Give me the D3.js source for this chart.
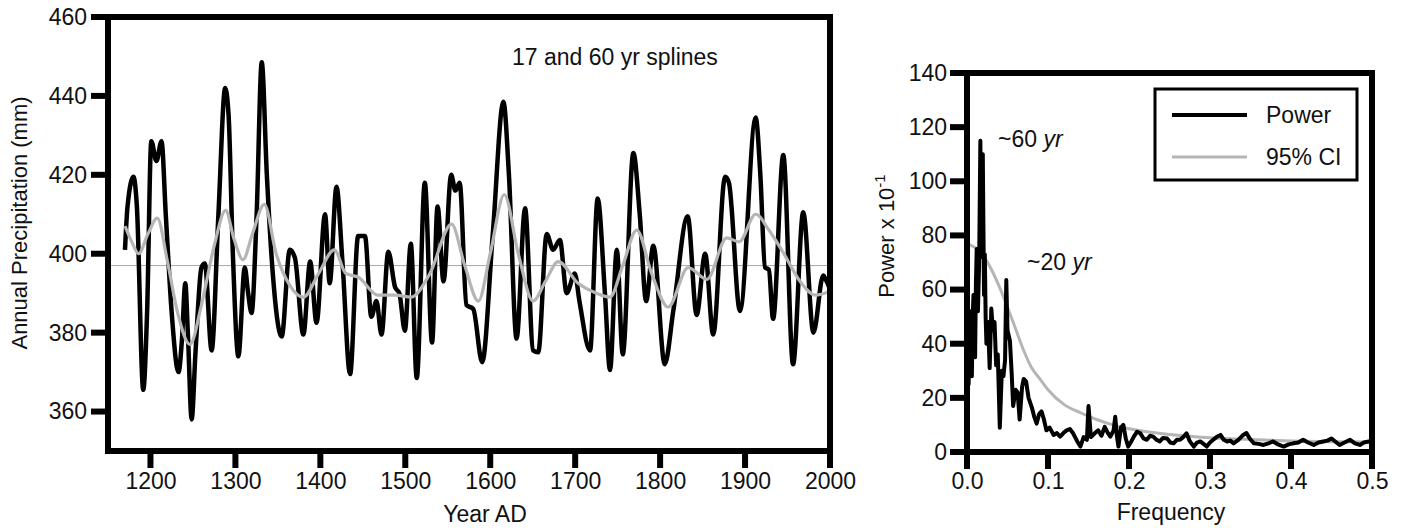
<!DOCTYPE html>
<html lang="en">
<head>
<meta charset="UTF-8" />
<title>Precipitation splines and power spectrum</title>
<style>
  body { margin: 0; background: #fff; }
  text { font-family: "Liberation Sans", Arial, sans-serif; fill: #111; }
</style>
</head>
<body>
<div id="wrapper"></div>
<script src="https://d3js.org/d3.v7.min.js"></script>
<script>
// ---- left panel: 17 yr spline (black) and 60 yr spline (grey) ----
const years17 = [1170,1173,1180,1184,1191.5,1196,1201,1207,1213,1218,1225,1233,1237,1241,1244,1248.5,1253,1260,1264,1272,1280,1288,1292,1297,1303.5,1311,1315,1319,1325,1331,1337,1344,1354.5,1364,1370,1380,1388,1395.5,1405.5,1411,1419,1426,1435,1444.5,1452.5,1460,1466,1472,1480,1488,1493,1499.5,1506.5,1513.5,1523,1531.5,1538,1545,1554,1559,1564,1572,1580,1590.5,1603,1615.5,1622,1631,1641,1650.5,1656.5,1666.5,1674,1682,1690,1699.5,1705,1717.5,1726.5,1735,1741,1749,1756,1768.5,1776,1783.5,1792,1805.5,1815.5,1832.5,1843,1853,1862.5,1876.5,1881,1894,1912.5,1918,1923.5,1928,1933,1945,1956.5,1968.5,1980.5,1992,1996,2000];
const precip17 = [401,412,419.5,412,365.5,385,428.5,423.5,428.5,410,385,370,378,392.5,380,358,375,396.5,397.5,375.5,410,442,435,400,374,396.5,390,385,410,448.5,420,395,379,401,399,379.5,398,382.5,410,392.5,417,398,369.5,404.5,404.5,384,388,379.5,400.5,391.5,390,380.5,402.5,368.5,418,377.5,412,393,420,416,418,387,386,372.5,405,438.5,420,378.5,411.5,375.5,375,405,401,403.5,390,395,388,375.5,414,390,370.5,401,374.5,425.5,410,388,402,372,385.5,409.5,384.5,400,379.5,419.5,418,385.5,434.5,420,396.5,396,383.5,425,372,410.5,380,394.5,393,391];

const years60 = [1170,1178,1186,1197,1208,1220,1232,1246.5,1260,1275,1288.5,1298,1309,1320,1334,1348,1364,1380,1398,1416.5,1430,1445,1468,1488,1507,1529,1554.5,1570,1586,1600,1616.5,1633,1650.5,1665,1680,1703.5,1725,1741,1756,1772.5,1790,1809.5,1833,1855,1878.5,1893,1912.5,1928,1943,1966.5,1982.5,2000];
const precip60 = [407,403,400,405,409,398,385,377,387,402,411,404,398.5,405,412.5,400,392,389,395,401,395,394,389.5,389.5,389,395,407.5,397,388,400,415,400,388,393,398,392.5,390,389,397,406,395,386.5,396.5,393.5,404,403,410,406,401,392.5,389.5,390.5];

const precipMean = 397;
const yearTicks = [1200,1300,1400,1500,1600,1700,1800,1900,2000];
const precipTicks = [360,380,400,420,440,460];

// ---- right panel: power spectrum and 95% CI ----
const freqPower = [0,0.001,0.002,0.003,0.004,0.005,0.006,0.007,0.008,0.009,0.010,0.011,0.012,0.0135,0.015,0.0165,0.0175,0.018,0.0195,0.021,0.022,0.023,0.024,0.026,0.028,0.030,0.032,0.034,0.036,0.038,0.0405,0.043,0.045,0.047,0.0485,0.050,0.053,0.055,0.057,0.060,0.0625,0.065,0.068,0.070,0.073,0.076,0.080,0.083,0.086,0.089,0.092,0.095,0.098,0.102,0.107,0.111,0.115,0.119,0.123,0.127,0.131,0.136,0.140,0.144,0.148,0.150,0.153,0.158,0.162,0.166,0.170,0.174,0.177,0.181,0.183,0.185,0.187,0.190,0.193,0.196,0.199,0.203,0.206,0.210,0.214,0.218,0.222,0.226,0.230,0.234,0.238,0.242,0.247,0.251,0.255,0.259,0.263,0.267,0.271,0.275,0.280,0.284,0.288,0.292,0.296,0.300,0.304,0.308,0.313,0.317,0.321,0.325,0.329,0.335,0.341,0.345,0.349,0.354,0.360,0.366,0.372,0.378,0.384,0.391,0.397,0.403,0.409,0.415,0.421,0.428,0.434,0.440,0.445,0.450,0.455,0.460,0.466,0.473,0.479,0.485,0.490,0.496,0.499,0.500];
const power = [45,30,25,44,52,36,28,50,58,40,35,62,75,52,70,115,78,72,110,58,73,50,40,48,31,53,45,48,32,36,9,30,28,34,63.5,45,41,30,17,23,22,12,24,27,26,20,16.5,13,10.5,14,15,12,8,9,6.3,7,5.7,7,8,8.5,6.9,4,2,5.5,4.5,17,5.5,7,8,6,9.3,7,5.7,8,13,6,2,9,10,5,2,4,5.7,7.5,6.9,5,4.5,6,5.7,4.5,3.9,5.2,5,3.5,3.2,4.5,4.5,5.5,6.9,4,2,3.5,3.9,3,2,3.5,4.5,5.5,6.3,4.5,3.9,4.2,3.2,4.5,6.3,7,5,3.2,3,2.6,3.2,3.9,2.8,2,2.8,3.2,3.5,4.5,3.5,2.6,3.5,3.9,4.2,5,3.8,2.6,3.5,4.5,3.2,2.6,3.5,3.9,4,43];

const freqCI = [0,0.01,0.02,0.03,0.04,0.05,0.06,0.07,0.08,0.09,0.10,0.12,0.14,0.16,0.18,0.20,0.25,0.30,0.35,0.40,0.45,0.50];
const ci95 = [77,75.5,72.5,67.5,61,53.5,45.5,37.5,31,27,23,17.5,14.5,12,10,8.6,6.5,5.3,4.6,4.1,3.8,3.7];

const freqTicks = [0,0.1,0.2,0.3,0.4,0.5];
const powerTicks = [0,20,40,60,80,100,120,140];

const TICK = 17, TICK_W = 6;

const svg = d3.select("#wrapper").append("svg")
  .attr("width", 1408).attr("height", 528);

// labels come from d3 axes; heavy tick marks drawn as rects from the same scales
function styleAxis(g) {
  g.select(".domain").remove();
  g.selectAll(".tick line").remove();
  g.selectAll(".tick text").style("font-size", "23px").attr("fill", "#111");
}
function xTickMarks(scale, values, y0) {
  svg.append("g").selectAll("rect").data(values).join("rect")
    .attr("x", d => scale(d) - TICK_W / 2).attr("y", y0)
    .attr("width", TICK_W).attr("height", TICK).attr("fill", "#000");
}
function yTickMarks(scale, values, x0) {
  svg.append("g").selectAll("rect").data(values).join("rect")
    .attr("x", x0 - TICK).attr("y", d => scale(d) - TICK_W / 2)
    .attr("width", TICK).attr("height", TICK_W).attr("fill", "#000");
}

// ===== left panel =====
const L = {left: 108, right: 830, top: 17, bottom: 451};
const x1 = d3.scaleLinear().domain([1150, 2000]).range([L.left, L.right]);
const y1 = d3.scaleLinear().domain([350, 460]).range([L.bottom, L.top]);

svg.append("line")
  .attr("x1", x1(1150)).attr("x2", x1(2000))
  .attr("y1", y1(precipMean)).attr("y2", y1(precipMean))
  .attr("stroke", "#a8a8a8").attr("stroke-width", 1);

const line1 = d3.line().x(d => x1(d[0])).y(d => y1(d[1])).curve(d3.curveMonotoneX);

svg.append("path")
  .datum(d3.zip(years17, precip17))
  .attr("fill", "none").attr("stroke", "#000").attr("stroke-width", 4.5)
  .attr("stroke-linejoin", "round")
  .attr("d", line1);

svg.append("path")
  .datum(d3.zip(years60, precip60))
  .attr("fill", "none").attr("stroke", "#b5b5b5").attr("stroke-width", 3.2)
  .attr("d", line1);

svg.append("rect")
  .attr("x", L.left).attr("y", L.top)
  .attr("width", L.right - L.left).attr("height", L.bottom - L.top)
  .attr("fill", "none").attr("stroke", "#000").attr("stroke-width", 6);

svg.append("g").attr("transform", `translate(0,${L.bottom})`)
  .call(d3.axisBottom(x1).tickValues(yearTicks).tickFormat(d3.format("d")).tickSize(TICK).tickPadding(5))
  .call(styleAxis);
xTickMarks(x1, yearTicks, L.bottom);

svg.append("g").attr("transform", `translate(${L.left},0)`)
  .call(d3.axisLeft(y1).tickValues(precipTicks).tickSize(TICK).tickPadding(4))
  .call(styleAxis);
yTickMarks(y1, precipTicks, L.left);

svg.append("text").attr("x", 512).attr("y", 65)
  .style("font-size", "23px").text("17 and 60 yr splines");

svg.append("text").attr("x", 485).attr("y", 522)
  .attr("text-anchor", "middle").style("font-size", "23px").text("Year AD");

svg.append("text")
  .attr("transform", "translate(27,223) rotate(-90)")
  .attr("text-anchor", "middle").style("font-size", "22px")
  .text("Annual Precipitation (mm)");

// ===== right panel =====
const R = {left: 967, right: 1372, top: 73, bottom: 452};
const x2 = d3.scaleLinear().domain([0, 0.5]).range([R.left, R.right]);
const y2 = d3.scaleLinear().domain([0, 140]).range([R.bottom, R.top]);

svg.append("path")
  .datum(d3.zip(freqCI, ci95))
  .attr("fill", "none").attr("stroke", "#b5b5b5").attr("stroke-width", 3)
  .attr("d", d3.line().x(d => x2(d[0])).y(d => y2(d[1])).curve(d3.curveMonotoneX));

svg.append("path")
  .datum(d3.zip(freqPower, power))
  .attr("fill", "none").attr("stroke", "#000").attr("stroke-width", 4)
  .attr("stroke-linejoin", "round")
  .attr("d", d3.line().x(d => x2(d[0])).y(d => y2(d[1])));

svg.append("rect")
  .attr("x", R.left).attr("y", R.top)
  .attr("width", R.right - R.left).attr("height", R.bottom - R.top)
  .attr("fill", "none").attr("stroke", "#000").attr("stroke-width", 6);

svg.append("g").attr("transform", `translate(0,${R.bottom})`)
  .call(d3.axisBottom(x2).tickValues(freqTicks).tickFormat(d3.format(".1f")).tickSize(TICK).tickPadding(4))
  .call(styleAxis);
xTickMarks(x2, freqTicks, R.bottom);

svg.append("g").attr("transform", `translate(${R.left},0)`)
  .call(d3.axisLeft(y2).tickValues(powerTicks).tickSize(TICK).tickPadding(3))
  .call(styleAxis);
yTickMarks(y2, powerTicks, R.left);

svg.append("text").attr("x", 1171).attr("y", 520)
  .attr("text-anchor", "middle").style("font-size", "23px").text("Frequency");

const yl = svg.append("text")
  .attr("transform", "translate(894,236) rotate(-90)")
  .attr("text-anchor", "middle").style("font-size", "22px");
yl.append("tspan").text("Power x 10");
yl.append("tspan").attr("dy", -9).style("font-size", "15px").text("-1");

// annotations
const a60 = svg.append("text").attr("x", 998).attr("y", 147).style("font-size", "23px");
a60.append("tspan").text("~60 ");
a60.append("tspan").style("font-style", "italic").text("yr");
const a20 = svg.append("text").attr("x", 1027).attr("y", 270).style("font-size", "23px");
a20.append("tspan").text("~20 ");
a20.append("tspan").style("font-style", "italic").text("yr");

// legend
const legend = svg.append("g");
legend.append("rect")
  .attr("x", 1155).attr("y", 89).attr("width", 202).attr("height", 91)
  .attr("fill", "#fff").attr("stroke", "#000").attr("stroke-width", 3);
const legendItems = [
  {label: "Power", color: "#000", width: 4, y: 115},
  {label: "95% CI", color: "#b5b5b5", width: 3, y: 157}
];
legendItems.forEach(it => {
  legend.append("line")
    .attr("x1", 1172).attr("x2", 1247).attr("y1", it.y).attr("y2", it.y)
    .attr("stroke", it.color).attr("stroke-width", it.width);
  legend.append("text").attr("x", 1266).attr("y", it.y + 8)
    .style("font-size", "23px").text(it.label);
});
</script>
</body>
</html>
